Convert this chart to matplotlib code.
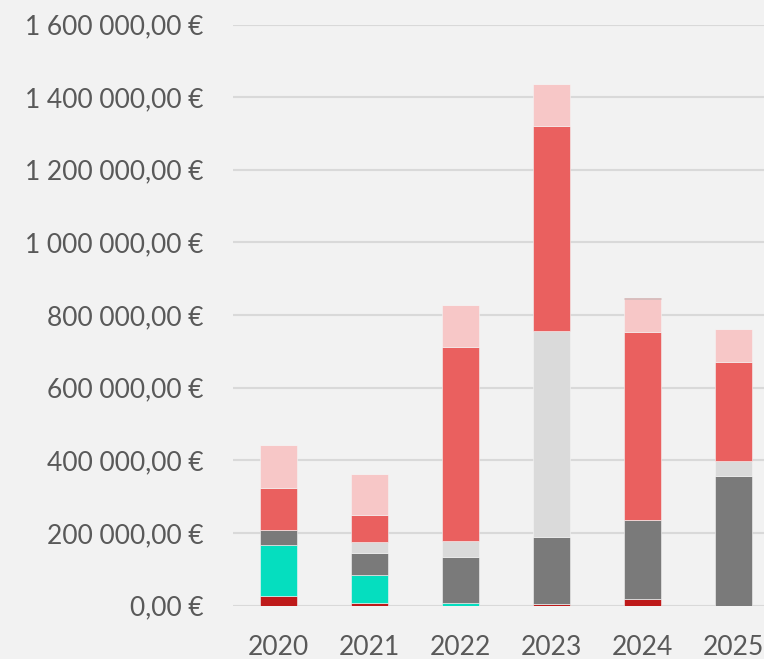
import matplotlib.pyplot as plt
import numpy as np
from matplotlib.ticker import FuncFormatter

years = ['2020', '2021', '2022', '2023', '2024', '2025']

# stacked series, bottom to top (values in €)
dark_red = [26000, 8000, 0, 5000, 17000, 0]
teal = [141000, 76000, 7000, 0, 0, 0]
grey = [42000, 61000, 127000, 184000, 218000, 358000]
light_grey = [0, 30000, 43000, 566000, 0, 40000]
red = [115000, 75000, 535000, 565000, 519000, 273000]
pink = [118000, 113000, 115000, 116000, 90000, 90000]
maroon = [0, 0, 0, 0, 3000, 0]

series = [dark_red, teal, grey, light_grey, red, pink, maroon]
colors = ['#BE1A1A', '#05DEBF', '#7A7A7A', '#DADADA', '#EA605F', '#F7C7C7', '#7B0A0A']

bg = '#F2F2F2'
fig = plt.figure(figsize=(7.64, 6.59), dpi=100, facecolor=bg)
ax = fig.add_axes([233 / 764, 53.5 / 659, 546 / 764, 581 / 659], facecolor=bg)

x = np.arange(len(years))
bottom = np.zeros(len(years))
for vals, c in zip(series, colors):
    vals = np.array(vals, dtype=float)
    ax.bar(x, vals, width=0.4, bottom=bottom, color=c, edgecolor='#f5f5f5', linewidth=0.4, zorder=3)
    bottom += vals

ax.set_xlim(-0.5, len(years) - 0.5)
ax.set_ylim(0, 1600000)
ax.set_yticks(np.arange(0, 1600001, 200000))
# french number format with a little wider gaps between thousands
ax.yaxis.set_major_formatter(FuncFormatter(
    lambda v, p: f"{v:,.2f}".replace(",", "\u2005").replace(".", ",") + "\u2005€"))
ax.set_xticks(x)
ax.set_xticklabels(years)

ax.grid(axis='y', color='#D9D9D9', linewidth=1.5, zorder=0)
for s in ax.spines.values():
    s.set_visible(False)

ax.tick_params(axis='y', length=0, pad=21, labelsize=19, labelcolor='#595959')
ax.tick_params(axis='x', length=0, pad=21, labelsize=19, labelcolor='#595959')
for lab in ax.get_xticklabels() + ax.get_yticklabels():
    lab.set_fontfamily(['Lato', 'DejaVu Sans'])

fig.savefig('out.png', dpi=100, facecolor=bg)
